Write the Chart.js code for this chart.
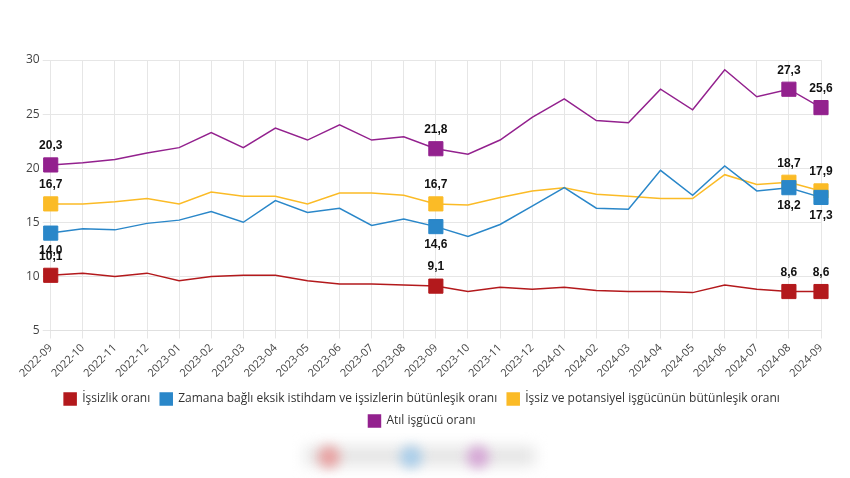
<!DOCTYPE html>
<html lang="tr">
<head>
  <meta charset="UTF-8">
  <title>İşgücü göstergeleri</title>
  <script src="https://cdn.jsdelivr.net/npm/chart.js"></script>
  <style>
    body { margin: 0; background: #fff; }
    #wrap { position: absolute; left: 0; top: 0; width: 850px; height: 437px; }
    .blur { position: absolute; border-radius: 50%; filter: blur(6px); }
    #band { position: absolute; left: 305px; top: 446px; width: 230px; height: 20px; background: #e6e6e6; filter: blur(7px); }
  </style>
</head>
<body>
  <div id="wrap"><canvas id="grafik"></canvas></div>
  <div id="band"></div>
  <div class="blur" style="left:318px;top:446px;width:22px;height:22px;background:#e8a0a0"></div>
  <div class="blur" style="left:400px;top:446px;width:22px;height:22px;background:#a8cdea"></div>
  <div class="blur" style="left:467px;top:446px;width:22px;height:22px;background:#d6a6d6"></div>

  <script>
    const aylar = ['2022-09','2022-10','2022-11','2022-12','2023-01','2023-02','2023-03','2023-04',
      '2023-05','2023-06','2023-07','2023-08','2023-09','2023-10','2023-11','2023-12','2024-01',
      '2024-02','2024-03','2024-04','2024-05','2024-06','2024-07','2024-08','2024-09'];

    const issizlik  = [10.1,10.3,10.0,10.3,9.6,10.0,10.1,10.1,9.6,9.3,9.3,9.2,9.1,8.6,9.0,8.8,9.0,8.7,8.6,8.6,8.5,9.2,8.8,8.6,8.6];
    const zamana    = [14.0,14.4,14.3,14.9,15.2,16.0,15.0,17.0,15.9,16.3,14.7,15.3,14.6,13.7,14.8,16.5,18.2,16.3,16.2,19.8,17.5,20.2,17.9,18.2,17.3];
    const potansiyel= [16.7,16.7,16.9,17.2,16.7,17.8,17.4,17.4,16.7,17.7,17.7,17.5,16.7,16.6,17.3,17.9,18.2,17.6,17.4,17.2,17.2,19.4,18.5,18.7,17.9];
    const atil      = [20.3,20.5,20.8,21.4,21.9,23.3,21.9,23.7,22.6,24.0,22.6,22.9,21.8,21.3,22.6,24.7,26.4,24.4,24.2,27.3,25.4,29.1,26.6,27.3,25.6];

    // etiketli noktalar
    const isaretli = [0, 12, 23, 24];

    function seri(ad, veri, renk, konum) {
      return {
        label: ad,
        data: veri,
        borderColor: renk,
        backgroundColor: renk,
        borderWidth: 1.5,
        tension: 0,
        pointStyle: 'rect',
        pointRadius: ctx => isaretli.includes(ctx.dataIndex) ? 10 : 0,
        pointHoverRadius: 0,
        pointBorderWidth: 1,
        etiketKonum: konum
      };
    }

    const etiketEklentisi = {
      id: 'etiketler',
      afterDatasetsDraw(chart) {
        const c = chart.ctx;
        c.save();
        c.font = 'bold 12px "Liberation Sans", Arial, sans-serif';
        c.fillStyle = '#111';
        c.textAlign = 'center';
        c.textBaseline = 'middle';
        chart.data.datasets.forEach((ds, i) => {
          const meta = chart.getDatasetMeta(i);
          isaretli.forEach(j => {
            const p = meta.data[j];
            const metin = ds.data[j].toFixed(1).replace('.', ',');
            const dy = ds.etiketKonum === 'alt' ? 18 : -19;
            c.fillText(metin, p.x, p.y + dy);
          });
        });
        c.restore();
      }
    };

    const ctx = document.getElementById('grafik').getContext('2d');
    new Chart(ctx, {
      type: 'line',
      data: {
        labels: aylar,
        datasets: [
          seri('İşsizlik oranı', issizlik, '#b3191c', 'ust'),
          seri('Zamana bağlı eksik istihdam ve işsizlerin bütünleşik oranı', zamana, '#2a87c9', 'alt'),
          seri('İşsiz ve potansiyel işgücünün bütünleşik oranı', potansiyel, '#fbbb26', 'ust'),
          seri('Atıl işgücü oranı', atil, '#93218e', 'ust')
        ]
      },
      plugins: [etiketEklentisi],
      options: {
        responsive: true,
        maintainAspectRatio: false,
        animation: false,
        layout: { padding: { top: 60, right: 29, left: 23, bottom: 0 } },
        plugins: {
          legend: {
            position: 'bottom',
            labels: {
              boxWidth: 12,
              boxHeight: 12,
              padding: 10,
              color: '#333',
              font: { family: '"Open Sans", sans-serif', size: 12 }
            }
          },
          tooltip: { enabled: false }
        },
        scales: {
          x: {
            grid: { color: '#e6e6e6' },
            border: { color: '#e0e0e0' },
            ticks: {
              color: '#444',
              padding: 3,
              minRotation: 45,
              maxRotation: 45,
              font: { family: '"Open Sans", sans-serif', size: 11 }
            }
          },
          y: {
            min: 5,
            max: 30,
            grid: { color: '#e6e6e6' },
            border: { display: false },
            ticks: {
              stepSize: 5,
              color: '#444',
              font: { family: '"Open Sans", sans-serif', size: 12 }
            }
          }
        }
      }
    });
  </script>
</body>
</html>
